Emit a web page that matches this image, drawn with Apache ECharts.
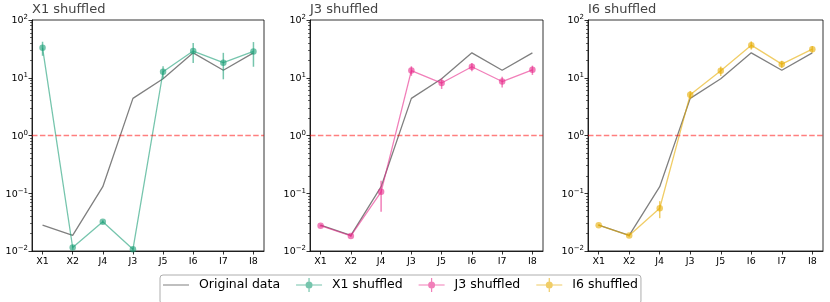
<!DOCTYPE html>
<html>
<head>
<meta charset="utf-8">
<script src="https://cdn.jsdelivr.net/npm/echarts@6/dist/echarts.min.js"></script>
<style>html,body{margin:0;padding:0;background:#fff}#c{width:830px;height:302px}</style>
</head>
<body>
<div id="c"></div>
<script>
const categories = ['X1','X2','J4','J3','J5','I6','I7','I8'];
const panelTitles = ['X1 shuffled','J3 shuffled','I6 shuffled'];
const original = [0.028, 0.0187, 0.13, 4.4, 9.6, 27, 13.5, 27];
const x1Shuffled = [33, 0.0115, 0.032, 0.0107, 12.7, 29, 18.2, 28.5];
const x1Err = [9, 0.001, 0.002, 0.0008, 3.1, 11, 8.8, 13];
const j3Shuffled = [0.0275, 0.0182, 0.106, 13.3, 8.1, 15.5, 8.6, 13.7];
const j3Err = [0.001, 0.0008, 0.058, 2.5, 1.7, 2.5, 1.8, 2.5];
const i6Shuffled = [0.028, 0.0185, 0.055, 5.1, 13.2, 36.7, 17.2, 31.3];
const i6Err = [0.001, 0.0008, 0.018, 0.8, 2.5, 6, 2.5, 4];
const yMajor = [0.01, 0.1, 1, 10, 100];
const yMinor = [];
[0.01, 0.1, 1, 10].forEach(d => { for (let k = 2; k <= 9; k++) yMinor.push(+(d * k).toPrecision(3)); });
const refValue = 1;

const FONT = 'DejaVu Sans';
const shuffled = [
  {name: 'X1 shuffled', vals: x1Shuffled, err: x1Err, color: 'rgba(27,158,119,0.6)'},
  {name: 'J3 shuffled', vals: j3Shuffled, err: j3Err, color: 'rgba(231,41,138,0.6)'},
  {name: 'I6 shuffled', vals: i6Shuffled, err: i6Err, color: 'rgba(230,171,2,0.6)'}
];
const grids = [
  {left: 32, top: 20, width: 232, height: 231},
  {left: 310, top: 20, width: 233, height: 231},
  {left: 588, top: 20, width: 235, height: 231}
];
const idx = categories.map((c, i) => i);
const GRAY = 'rgba(0,0,0,0.5)';

const option = {
  animation: false,
  backgroundColor: '#fff',
  textStyle: {fontFamily: FONT},
  title: grids.map((g, i) => ({
    text: panelTitles[i], left: g.left, top: 3, padding: 0,
    textStyle: {fontSize: 13, fontWeight: 'normal', color: '#444', fontFamily: FONT}
  })),
  grid: grids.map(g => Object.assign({show: true, borderColor: '#000', borderWidth: 0.8, backgroundColor: 'transparent'}, g)),
  xAxis: grids.map((g, i) => ({
    type: 'value', gridIndex: i, min: -0.35, max: 7.35,
    axisLine: {show: true, onZero: false, lineStyle: {color: '#000', width: 0.8}},
    axisTick: {show: true, length: 3.5, customValues: idx, lineStyle: {color: '#000', width: 0.8}},
    axisLabel: {customValues: idx, formatter: v => categories[Math.round(v)], fontSize: 9.5, color: '#000', margin: 6, fontFamily: FONT},
    splitLine: {show: false}
  })),
  yAxis: grids.map((g, i) => ({
    type: 'log', logBase: 10, gridIndex: i, min: 0.01, max: 100, position: 'left',
    axisLine: {show: true, onZero: false, lineStyle: {color: '#000', width: 0.8}},
    axisTick: {show: true, length: 3.5, customValues: yMajor, lineStyle: {color: '#000', width: 0.8}},
    axisLabel: {
      customValues: yMajor, margin: 4, color: '#000', fontFamily: FONT,
      formatter: v => {
        const e = Math.round(Math.log10(v));
        return '{b|10}{s|' + (e < 0 ? '\u2212' + (-e) : e) + '}';
      },
      rich: {
        b: {fontSize: 9.5, lineHeight: 12, verticalAlign: 'bottom', fontFamily: FONT, color: '#000'},
        s: {fontSize: 7, lineHeight: 7, verticalAlign: 'top', fontFamily: FONT, color: '#000'}
      }
    },
    splitLine: {show: false}
  })).concat(grids.map((g, i) => ({
    type: 'log', logBase: 10, gridIndex: i, min: 0.01, max: 100, position: 'right', offset: -g.width,
    axisLine: {show: false, onZero: false},
    axisTick: {show: true, inside: true, length: 2, customValues: yMinor, lineStyle: {color: '#000', width: 0.6}},
    axisLabel: {show: false},
    splitLine: {show: false}
  }))),
  legend: {
    left: 160, top: 275, orient: 'horizontal',
    padding: [3, 3, 12, 3],
    borderColor: '#999', borderWidth: 0.8, borderRadius: 3,
    itemWidth: 26, itemHeight: 14, itemGap: 16,
    textStyle: {fontSize: 12.5, color: '#000', fontFamily: FONT, padding: [0, 0, 0, 5]},
    data: [{
      name: 'Original data',
      icon: 'path://M0,0H0.01V0.01H0Z M0,6.4H26V7.6H0Z M0,13.99H0.01V14H0Z',
      itemStyle: {color: GRAY, borderWidth: 0}
    }].concat(shuffled.map(s => ({
      name: s.name,
      icon: 'path://M0,6.4H26V7.6H0Z M12.4,0H13.6V14H12.4Z M9.5,7A3.5,3.5,0,1,1,16.5,7A3.5,3.5,0,1,1,9.5,7Z',
      itemStyle: {color: s.color, borderColor: s.color, borderWidth: 0, opacity: 1}
    })))
  },
  series: []
};

grids.forEach((g, i) => {
  const s = shuffled[i];
  option.series.push({
    name: 'Original data', type: 'line', xAxisIndex: i, yAxisIndex: i,
    data: idx.map(k => [k, original[k]]), symbol: 'none', z: 2,
    lineStyle: {color: GRAY, width: 1.3}, itemStyle: {color: GRAY},
    markLine: {
      silent: true, symbol: 'none', label: {show: false},
      lineStyle: {color: 'rgba(255,0,0,0.5)', type: [5.5, 2.4], width: 1.4},
      data: [{yAxis: refValue}]
    }
  });
  option.series.push({
    name: s.name + ' err', type: 'custom', xAxisIndex: i, yAxisIndex: i, z: 3,
    data: idx.map(k => [k, s.vals[k], s.err[k]]),
    encode: {x: 0, y: 1},
    renderItem: (params, api) => {
      const x = api.value(0), y = api.value(1), e = api.value(2);
      const p1 = api.coord([x, Math.max(y - e, 1e-4)]);
      const p2 = api.coord([x, y + e]);
      return {type: 'line', shape: {x1: p1[0], y1: p1[1], x2: p2[0], y2: p2[1]},
        style: {stroke: s.color, lineWidth: 1.5}};
    }
  });
  option.series.push({
    name: s.name, type: 'line', xAxisIndex: i, yAxisIndex: i, z: 4,
    data: idx.map(k => [k, s.vals[k]]),
    symbol: 'circle', symbolSize: 6.5, showSymbol: true,
    lineStyle: {color: s.color, width: 1.3}, itemStyle: {color: s.color}
  });
});

const chart = echarts.init(document.getElementById('c'), null, {renderer: 'canvas'});
chart.setOption(option);
</script>
</body>
</html>
